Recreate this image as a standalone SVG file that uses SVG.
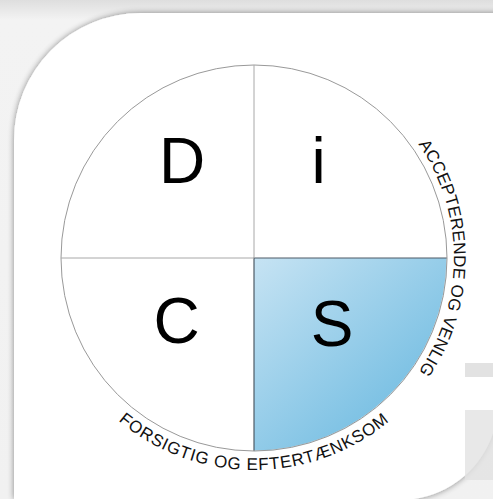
<svg xmlns="http://www.w3.org/2000/svg" width="493" height="499" viewBox="0 0 493 499">
  <defs>
    <linearGradient id="bgTop" x1="0" y1="0" x2="0" y2="1">
      <stop offset="0" stop-color="#dedede"/>
      <stop offset="0.04" stop-color="#f3f3f3"/>
      <stop offset="1" stop-color="#f1f1f1"/>
    </linearGradient>
    <linearGradient id="sGrad" x1="254" y1="258" x2="420" y2="440" gradientUnits="userSpaceOnUse">
      <stop offset="0" stop-color="#c6e3f3"/>
      <stop offset="1" stop-color="#6ab9e0"/>
    </linearGradient>
    <filter id="shadow" x="-10%" y="-10%" width="120%" height="120%">
      <feGaussianBlur in="SourceAlpha" stdDeviation="3"/>
      <feOffset dx="0" dy="0" result="b"/>
      <feComponentTransfer><feFuncA type="linear" slope="0.45"/></feComponentTransfer>
      <feMerge><feMergeNode/><feMergeNode in="SourceGraphic"/></feMerge>
    </filter>
    <path id="rightArc" d="M 254 58 A 200 200 0 1 1 254 458 A 200 200 0 1 1 254 58"/>
    <path id="bottomArc" d="M 254 46 A 212 212 0 1 0 254 470 A 212 212 0 1 0 254 46"/>
    <style>
      .big { font-family: "Liberation Sans", Arial, Helvetica, sans-serif; font-size: 64px; fill: #000; text-anchor: middle; }
      .arc { font-family: "Liberation Sans", Arial, Helvetica, sans-serif; font-size: 17px; fill: #111; text-anchor: middle; }
      .divider { stroke: #a8a8a8; stroke-width: 1; fill: none; }
      .ring { stroke: #999; stroke-width: 1; fill: none; }
      .wm { fill: #e2e2e2; }
    </style>
  </defs>

  <!-- background -->
  <rect x="0" y="0" width="493" height="499" fill="url(#bgTop)"/>
  <rect x="52" y="492" width="28" height="7" fill="#f3f3f3"/>

  <!-- card -->
  <path d="M 14 141 A 127 127 0 0 1 141 13 L 500 13 L 500 433 L 493 433 A 98 98 0 0 1 414 499 L 14 499 Z" fill="#ffffff" filter="url(#shadow)"/>

  <!-- watermark -->
  <rect class="wm" x="465" y="363" width="28" height="14"/>
  <rect class="wm" x="465" y="410" width="28" height="70" opacity="0.8"/>

  <!-- quadrants -->
  <g id="node-D">
    <path d="M 254 258 L 61 258 A 193 193 0 0 1 254 65 Z" fill="#ffffff"/>
    <text class="big" x="182" y="183">D</text>
  </g>
  <g id="node-i">
    <path d="M 254 258 L 254 65 A 193 193 0 0 1 447 258 Z" fill="#ffffff"/>
    <text class="big" x="318.5" y="183">i</text>
  </g>
  <g id="node-C">
    <path d="M 254 258 L 254 451 A 193 193 0 0 1 61 258 Z" fill="#ffffff"/>
    <text class="big" x="176.5" y="343">C</text>
  </g>
  <g id="node-S">
    <path d="M 254 258 L 447 258 A 193 193 0 0 1 254 451 Z" fill="url(#sGrad)"/>
    <path d="M 447 258 A 193 193 0 0 1 254 451" fill="none" stroke="#e8f2f7" stroke-width="1.2"/>
    <path d="M 447 258 L 254 258 L 254 451" fill="none" stroke="#4e5b66" stroke-width="1.2"/>
    <text class="big" x="332" y="346">S</text>
  </g>

  <!-- connectors / dividers -->
  <g id="connectors">
    <circle class="ring" cx="254" cy="258" r="193"/>
    <line class="divider" x1="254" y1="65" x2="254" y2="258"/>
    <line class="divider" x1="61" y1="258" x2="254" y2="258"/>
  </g>

  <!-- arc labels -->
  <g id="label-right">
    <text class="arc" letter-spacing="0.2"><textPath href="#rightArc" startOffset="25%">ACCEPTERENDE OG VENLIG</textPath></text>
  </g>
  <g id="label-bottom">
    <text class="arc" letter-spacing="0.8"><textPath href="#bottomArc" startOffset="50%">FORSIGTIG OG EFTERTÆNKSOM</textPath></text>
  </g>
</svg>
